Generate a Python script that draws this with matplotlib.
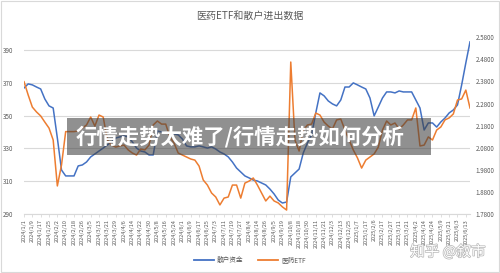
import matplotlib
matplotlib.use("Agg")
import matplotlib.pyplot as plt
import matplotlib.patheffects as pe
from matplotlib.patches import Rectangle
from matplotlib.lines import Line2D
import numpy as np

plt.rcParams['font.family'] = ['Noto Sans CJK SC', 'DejaVu Sans']

title = "医药ETF和散户进出数据"
series_names = ["散户资金", "医药ETF"]

date_labels = [
    "2024/1/1", "2024/1/9", "2024/1/17", "2024/1/25", "2024/2/2", "2024/2/10", "2024/2/18",
    "2024/2/26", "2024/3/5", "2024/3/13", "2024/3/21", "2024/3/29", "2024/4/6", "2024/4/14",
    "2024/4/22", "2024/4/30", "2024/5/8", "2024/5/16", "2024/5/24", "2024/6/1", "2024/6/9",
    "2024/6/17", "2024/6/25", "2024/7/3", "2024/7/11", "2024/7/19", "2024/7/27", "2024/8/4",
    "2024/8/14", "2024/8/26", "2024/9/5", "2024/9/19", "2024/10/8", "2024/10/18", "2024/10/30",
    "2024/11/11", "2024/11/21", "2024/12/3", "2024/12/13", "2024/12/25", "2025/1/7", "2025/1/17",
    "2025/2/6", "2025/2/17", "2025/2/27", "2025/3/11", "2025/3/21", "2025/4/2", "2025/4/14",
    "2025/4/24", "2025/5/9", "2025/5/21", "2025/6/3", "2025/6/13",
]

# 散户资金 (left axis), one value per half label interval
retail = [
    366.8, 369.3, 368.7, 367.4, 366.2, 360.1, 355.9, 354.6, 336.3, 316.8,
    313.2, 313.2, 313.2, 319.3, 319.9, 321.7, 324.8, 326.6, 328.4, 330.2,
    332.1, 333.9, 336.3, 337.0, 337.6, 337.0, 333.9, 330.2, 328.4, 327.8,
    326.0, 326.0, 340.6, 340.0, 339.4, 339.4, 338.8, 338.2, 335.7, 331.5,
    330.9, 330.9, 331.5, 330.9, 330.2, 330.9, 329.6, 327.8, 326.6, 324.8,
    321.7, 318.0, 315.6, 313.2, 312.0, 310.7, 310.1, 308.9, 307.7, 305.2,
    302.2, 298.5, 296.7, 297.3, 312.6, 315.0, 317.4, 327.2, 333.3, 338.2,
    351.6, 363.8, 362.0, 358.9, 357.1, 355.9, 359.5, 367.4, 367.4, 369.9,
    368.7, 367.4, 366.2, 360.7, 349.8, 355.2, 360.7, 364.4, 364.4, 363.8,
    365.0, 364.4, 364.4, 364.4, 359.5, 354.6, 341.2, 345.5, 345.5, 343.0,
    346.1, 348.5, 351.6, 353.4, 356.5, 368.7, 382.1, 394.9,
]

# 医药ETF (right axis)
etf = [
    2.379, 2.319, 2.264, 2.242, 2.224, 2.196, 2.169, 2.115, 1.907, 2.002,
    2.153, 2.153, 2.153, 2.156, 2.169, 2.183, 2.219, 2.178, 2.228, 2.219,
    2.115, 2.092, 2.083, 2.088, 2.092, 2.070, 2.056, 2.047, 2.074, 2.070,
    2.092, 2.183, 2.201, 2.187, 2.187, 2.129, 2.101, 2.056, 2.047, 2.038,
    2.029, 2.024, 1.997, 1.934, 1.911, 1.875, 1.857, 1.821, 1.852, 1.857,
    1.911, 1.911, 1.852, 1.920, 1.929, 1.943, 1.911, 1.875, 1.839, 1.861,
    1.839, 1.830, 1.812, 1.798, 2.468, 2.115, 2.065, 2.160, 2.183, 2.187,
    2.237, 2.228, 2.196, 2.178, 2.165, 2.206, 2.210, 2.160, 2.115, 2.070,
    2.034, 1.988, 2.024, 2.038, 2.052, 2.083, 2.160, 2.201, 2.183, 2.192,
    2.165, 2.183, 2.206, 2.206, 2.260, 2.088, 2.092, 2.129, 2.115, 2.160,
    2.174, 2.206, 2.215, 2.233, 2.296, 2.301, 2.341, 2.260,
]

left_ticks = [290, 310, 330, 350, 370, 390]
right_ticks = [1.78, 1.88, 1.98, 2.08, 2.18, 2.28, 2.38, 2.48, 2.58]

BLUE = "#4472C4"
ORANGE = "#ED7D31"
GRID = "#D9D9D9"
TXT = "#595959"

W, H = 500, 273
fig = plt.figure(figsize=(W / 100, H / 100), dpi=100)
fig.patch.set_facecolor("white")

x0, x1, ytop, ybot = 24, 470, 37.3, 214
ax = fig.add_axes([x0 / W, 1 - ybot / H, (x1 - x0) / W, (ybot - ytop) / H])
ax2 = ax.twinx()

x = np.arange(len(retail))
ax.plot(x, retail, color=BLUE, lw=1.1, solid_joinstyle="round", zorder=3)
ax2.plot(x, etf, color=ORANGE, lw=1.1, solid_joinstyle="round", zorder=3)

ax.set_xlim(0, len(retail) - 1)
ax.set_ylim(290, 397.7)
ax2.set_ylim(1.78, 2.58)

ax.set_yticks(left_ticks)
ax.set_yticklabels([str(t) for t in left_ticks])
ax2.set_yticks(right_ticks)
ax2.set_yticklabels([f"{t:.4f}" for t in right_ticks])

tick_pos = np.arange(0, len(date_labels) * 2, 2)
ax.set_xticks(tick_pos)
ax.set_xticklabels(date_labels, rotation=90, fontsize=4.0, color=TXT)

ax.grid(axis="y", color=GRID, lw=0.8)
ax.set_axisbelow(True)
for a in (ax, ax2):
    for s in ("top", "left", "right"):
        a.spines[s].set_visible(False)
ax.spines["bottom"].set_color(GRID)
ax.spines["bottom"].set_linewidth(0.8)
ax2.spines["bottom"].set_visible(False)

ax.tick_params(axis="x", length=2, width=0.6, color=GRID, pad=1.5)
ax.tick_params(axis="y", length=0, pad=8, labelsize=4.5, labelcolor=TXT)
ax2.tick_params(axis="y", length=0, pad=4, labelsize=4.5, labelcolor=TXT)

fig.text(0.5, 1 - 16 / H, title, ha="center", va="center", fontsize=7.2, color=TXT)

handles = [Line2D([], [], color=BLUE, lw=1.3), Line2D([], [], color=ORANGE, lw=1.3)]
fig.legend(handles, series_names, loc="center", bbox_to_anchor=(0.5, 1 - 260 / H),
           ncol=2, frameon=False, fontsize=4.8, handlelength=3.0, columnspacing=2.2,
           handletextpad=0.4, labelcolor=TXT)

# watermark banner
fig.patches.append(Rectangle((66.7 / W, 1 - 155 / H), (430.7 - 66.7) / W, 37 / H,
                             transform=fig.transFigure, facecolor="#404040", alpha=0.58,
                             edgecolor="none", zorder=10))
fig.text(76 / W, 1 - 137 / H, "行情走势太难了/行情走势如何分析", ha="left", va="center",
         fontsize=15.4, fontweight="bold", color="white", zorder=11)

fig.text(448 / W, 1 - 252 / H, "知乎 @叙市", ha="center", va="center", fontsize=10.5,
         color="white", zorder=11,
         path_effects=[pe.withStroke(linewidth=1.0, foreground="#b5b5b5")])

fig.patches.append(Rectangle((1 / W, 1 / H), (W - 2) / W, (H - 2) / H,
                             transform=fig.transFigure, facecolor="none",
                             edgecolor="#D9D9D9", lw=0.8, zorder=0))

fig.savefig("out.png", dpi=100, facecolor="white")
